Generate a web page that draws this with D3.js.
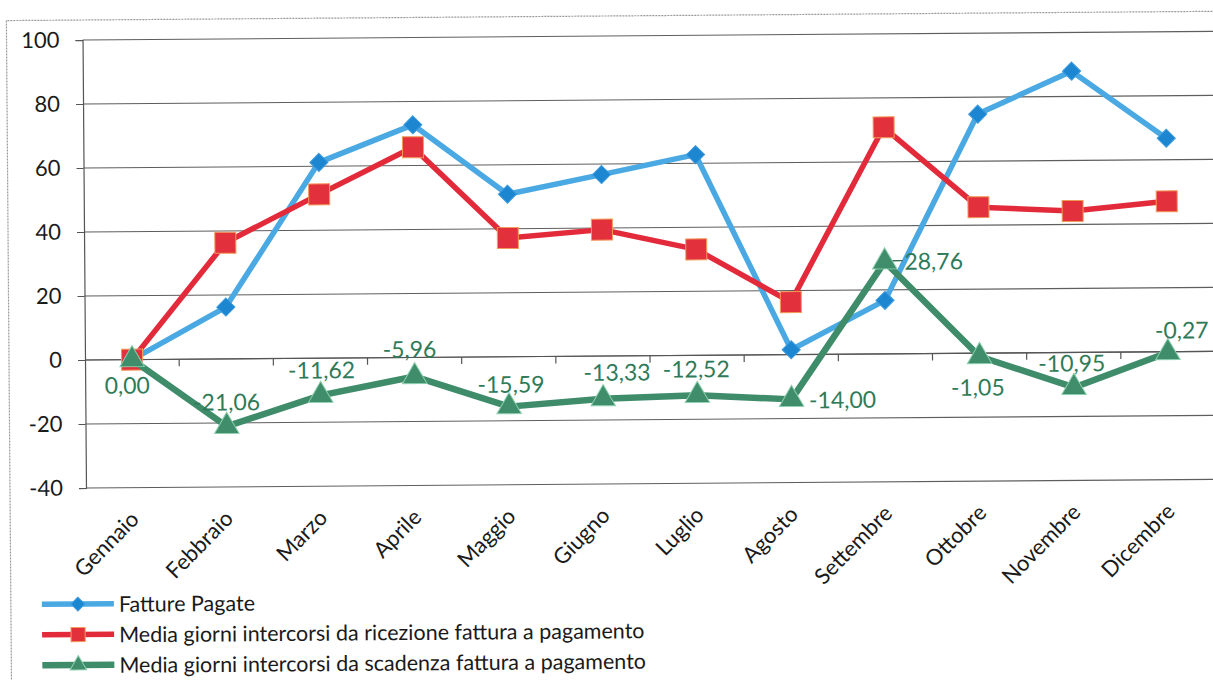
<!DOCTYPE html>
<html>
<head>
<meta charset="utf-8">
<script src="https://cdn.jsdelivr.net/npm/d3@7"></script>
<style>
  html, body { margin: 0; padding: 0; background: #fff; }
  svg { display: block; font-family: Lato, "Open Sans", sans-serif; }
</style>
</head>
<body>
<svg id="chart" width="1213" height="680"></svg>
<script>
// Months (x categories)
const months = ["Gennaio", "Febbraio", "Marzo", "Aprile", "Maggio", "Giugno",
                "Luglio", "Agosto", "Settembre", "Ottobre", "Novembre", "Dicembre"];

// Series values
const fatturePagate = [0, 16.2, 61.2, 72.7, 50.8, 56.7, 62.7, 1.5, 16.7, 74.7, 87.9, 66.7];
const giorniRicezione = [0, 36.3, 51.2, 65.7, 37.1, 39.5, 33.1, 16.4, 70.8, 45.6, 44.2, 47.0];
const giorniScadenza = [0.00, -21.06, -11.62, -5.96, -15.59, -13.33, -12.52, -14.00, 28.76, -1.05, -10.95, -0.27];

// Y axis ticks
const yTicks = [-40, -20, 0, 20, 40, 60, 80, 100];

// Series names for the legend
const seriesNames = [
  "Fatture Pagate",
  "Media giorni intercorsi da ricezione fattura a pagamento",
  "Media giorni intercorsi da scadenza fattura a pagamento"
];

// Placement of each value label around its triangle (dx, dy of text centre)
const labelOffsets = [
  [-5, 25], [0, -25], [1, -26], [-5, -28], [2, -23], [14, -27],
  [-1, -27], [51, 0], [49, -1], [-2, 30], [-2, -25], [14, -23]
];
// labels pulled far enough away to get a leader line
const leaderLines = [false, false, false, false, false, false, false, false, true, false, false, false];

const svg = d3.select("#chart");
const W = 1213, H = 680;

// whole sheet is slightly tilted
const root = svg.append("g").attr("transform", "rotate(-0.44, 85, 360)");

// outer chart frame
root.append("path")
  .attr("d", `M9,${H + 20} L9,20 L${W + 20},20`)
  .attr("fill", "none")
  .attr("stroke", "#9a9a9a")
  .attr("stroke-width", 1.2)
  .attr("stroke-dasharray", "2,1");

const x = d3.scalePoint().domain(months).range([85, 1215]).padding(0.5);
const y = d3.scaleLinear().domain([-40, 100]).range([488, 40]);
const step = x.step();

// horizontal gridlines
root.append("g").selectAll("line").data(yTicks).join("line")
  .attr("x1", 85).attr("x2", 1230)
  .attr("y1", d => y(d)).attr("y2", d => y(d))
  .attr("stroke", "#5e5e5e").attr("stroke-width", 1.1);

// y axis
const yAxis = d3.axisLeft(y).tickValues(yTicks).tickSize(7).tickPadding(16).tickFormat(d => String(d));
const yg = root.append("g").attr("transform", "translate(85,0)").call(yAxis);
yg.select(".domain").attr("stroke", "#555").attr("stroke-width", 1.2);
yg.selectAll(".tick line").attr("stroke", "#555");
yg.selectAll(".tick text")
  .attr("font-size", 22).attr("fill", "#1a1a1a")
  .attr("font-family", "Lato, sans-serif");

// x axis on the zero line with ticks between categories
const xBounds = d3.range(1, months.length + 1).map(i => 85 + i * step);
root.append("line")
  .attr("x1", 85).attr("x2", 1230).attr("y1", y(0)).attr("y2", y(0))
  .attr("stroke", "#555").attr("stroke-width", 1.2);
root.append("g").selectAll("line").data(xBounds).join("line")
  .attr("x1", d => d).attr("x2", d => d)
  .attr("y1", y(0)).attr("y2", y(0) + 7)
  .attr("stroke", "#555").attr("stroke-width", 1.2);

// category labels, rotated
root.append("g").selectAll("text").data(months).join("text")
  .attr("transform", d => `translate(${x(d) + 1},${y(-40) + 27}) rotate(-45)`)
  .attr("text-anchor", "end")
  .attr("dominant-baseline", "central")
  .attr("font-size", 22)
  .attr("fill", "#1a1a1a")
  .text(d => d);

const styles = [
  { values: fatturePagate, line: "#4aa9e3", fill: "#1c86d1", stroke: "#3c9be0", width: 5.5, marker: "diamond" },
  { values: giorniRicezione, line: "#e32a3a", fill: "#e2303d", stroke: "#f29a5a", width: 5.5, marker: "square" },
  { values: giorniScadenza, line: "#3e8c69", fill: "#3f8d6b", stroke: "#8ccfae", width: 6.5, marker: "triangle" }
];

const symbolTypes = { diamond: d3.symbolDiamond2, square: d3.symbolSquare, triangle: d3.symbolTriangle };
const symbolSizes = { diamond: 210, square: 440, triangle: 260 };

const line = d3.line().x((d, i) => x(months[i])).y(d => y(d));

styles.forEach(s => {
  const g = root.append("g");
  g.append("path").datum(s.values)
    .attr("d", line)
    .attr("fill", "none")
    .attr("stroke", s.line)
    .attr("stroke-width", s.width)
    .attr("stroke-linejoin", "round");
  g.selectAll("path.mk").data(s.values).join("path")
    .attr("class", "mk")
    .attr("transform", (d, i) => `translate(${x(months[i])},${y(d)})`)
    .attr("d", d3.symbol().type(symbolTypes[s.marker]).size(symbolSizes[s.marker]))
    .attr("fill", s.fill)
    .attr("stroke", s.stroke)
    .attr("stroke-width", 1);
});

// value labels on the third series
const fmt = v => d3.format(".2f")(v).replace(".", ",").replace("\u2212", "-");
const labels = root.append("g");
labels.selectAll("text").data(giorniScadenza).join("text")
  .attr("x", (d, i) => x(months[i]) + labelOffsets[i][0])
  .attr("y", (d, i) => y(d) + labelOffsets[i][1])
  .attr("text-anchor", "middle")
  .attr("dominant-baseline", "central")
  .attr("font-size", 23)
  .attr("fill", "#2f7b59")
  .text(d => fmt(d));
labels.selectAll("line").data(d3.range(giorniScadenza.length).filter(i => leaderLines[i]))
  .join("line")
  .attr("x1", i => x(months[i]) + 8).attr("x2", i => x(months[i]) + 18)
  .attr("y1", i => y(giorniScadenza[i]) - 1).attr("y2", i => y(giorniScadenza[i]) - 1)
  .attr("stroke", "#3b6e58").attr("stroke-width", 1.3);

// legend
const legend = root.append("g").attr("transform", "translate(40,604)");
styles.forEach((s, i) => {
  const row = legend.append("g").attr("transform", `translate(0,${i * 30.5})`);
  row.append("line")
    .attr("x1", 0).attr("x2", 72).attr("y1", 0).attr("y2", 0)
    .attr("stroke", s.line).attr("stroke-width", s.width);
  row.append("path")
    .attr("transform", "translate(36,0)")
    .attr("d", d3.symbol().type(symbolTypes[s.marker]).size(s.marker === "square" ? 200 : 120))
    .attr("fill", s.fill).attr("stroke", s.stroke).attr("stroke-width", 1);
  row.append("text")
    .attr("x", 77).attr("y", 0)
    .attr("dominant-baseline", "central")
    .attr("font-size", 21.5)
    .attr("fill", "#1a1a1a")
    .text(seriesNames[i]);
});
</script>
</body>
</html>
